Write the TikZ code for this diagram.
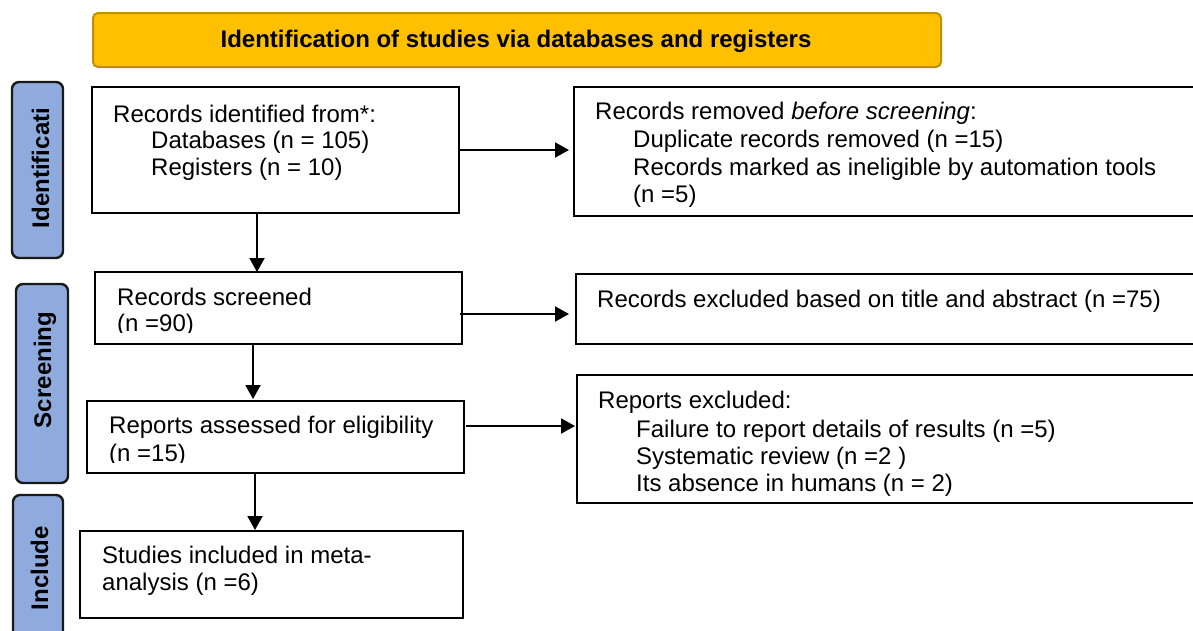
\documentclass[tikz,border=0pt]{standalone}
\usepackage{fontspec}
\setmainfont{Liberation Sans}
\usetikzlibrary{arrows.meta,calc}
\definecolor{bannerfill}{HTML}{FFC000}
\definecolor{bannerline}{HTML}{BF9000}
\definecolor{phasefill}{HTML}{8FAADC}

\begin{document}
\begin{tikzpicture}[x=1pt,y=-1pt,
  box/.style={draw=black, line width=2.2pt, rectangle, inner sep=0pt, outer sep=0pt, anchor=north west},
  phase/.style={draw=black!90, fill=phasefill, line width=2.4pt, rounded corners=7pt,
                inner sep=0pt, outer sep=0pt, anchor=north west},
  phasetxt/.style={rotate=90, anchor=base, inner sep=0pt,
                   font=\fontsize{24}{27}\selectfont\bfseries},
  txt/.style={anchor=base west, inner sep=0pt, font=\fontsize{24}{27}\selectfont},
  arr/.style={line width=2pt, -{Triangle[length=14pt,width=15pt]}},
]
\useasboundingbox (0,0) rectangle (1193,630);
\fill[white] (0,0) rectangle (1193,630);

% Banner
\node[draw=bannerline, fill=bannerfill, line width=2pt, rounded corners=5pt,
      minimum width=848pt, minimum height=54pt, inner sep=0pt, anchor=north west]
      (banner) at (92,12) {};
\node[anchor=base, inner sep=0pt, font=\fontsize{24}{27}\selectfont\bfseries]
      (bannertxt) at (516,47) {Identification of studies via databases and registers};

% Phase labels
\node[phase, minimum width=51pt, minimum height=176pt] (phid) at (12,82) {};
\node[phasetxt] (phidtxt) at (49,168) {Identificati};
\node[phase, minimum width=52pt, minimum height=199pt] (phsc) at (16,284) {};
\node[phasetxt] (phsctxt) at (51,370) {Screening};
\node[phase, minimum width=50pt, minimum height=160pt] (phin) at (13,495) {};
\node[phasetxt] (phintxt) at (48,568) {Include};

% Records identified
\node[box, minimum width=367pt, minimum height=126pt] (ident) at (92,87) {};
\node[txt] (id1) at (113,122) {Records identified from*:};
\node[txt] (id2) at (151,148) {Databases (n = 105)};
\node[txt] (id3) at (151,175) {Registers (n = 10)};

% Records removed
\node[box, minimum width=640pt, minimum height=129pt] (removed) at (574,87) {};
\node[txt] (rm1) at (595,119) {Records removed \textit{before screening}:};
\node[txt] (rm2) at (633,147) {Duplicate records removed (n =15)};
\node[txt] (rm3) at (633,175) {Records marked as ineligible by automation tools};
\node[txt] (rm4) at (633,202) {(n =5)};

% Records screened
\node[box, minimum width=367pt, minimum height=72pt] (screened) at (95,272) {};
\node[txt] (sc1) at (117,305) {Records screened};
\begin{scope}
  \clip (95,272) rectangle (462,332);
  \node[txt] (sc2) at (117,331) {(n =90)};
\end{scope}

% Records excluded
\node[box, minimum width=640pt, minimum height=70pt] (excluded) at (576,274) {};
\node[txt] (ex1) at (597,307) {Records excluded based on title and abstract (n =75)};

% Reports assessed
\node[box, minimum width=377pt, minimum height=72pt] (assessed) at (87,401) {};
\node[txt] (as1) at (109,433) {Reports assessed for eligibility};
\begin{scope}
  \clip (87,401) rectangle (464,462);
  \node[txt] (as2) at (109,461) {(n =15)};
\end{scope}

% Reports excluded
\node[box, minimum width=640pt, minimum height=128pt] (repexcl) at (577,375) {};
\node[txt] (re1) at (598,408) {Reports excluded:};
\node[txt] (re2) at (636,437) {Failure to report details of results (n =5)};
\node[txt] (re3) at (636,464) {Systematic review (n =2 )};
\node[txt] (re4) at (636,491) {Its absence in humans (n = 2)};

% Studies included
\node[box, minimum width=383pt, minimum height=87pt] (included) at (80,531) {};
\node[txt] (in1) at (102,563) {Studies included in meta-};
\node[txt] (in2) at (102,590) {analysis (n =6)};

% Horizontal connectors
\coordinate (a1) at (ident.east);
\draw[arr, shorten >=5pt] (a1) -- (a1 -| removed.west);
\coordinate (a2) at ([xshift=-2pt,yshift=-6pt]screened.east);
\draw[arr, shorten >=7pt] (a2) -- (a2 -| excluded.west);
\coordinate (a3) at ([xshift=2pt,yshift=11pt]assessed.east);
\draw[arr, shorten >=2pt] (a3) -- (a3 -| repexcl.west);

% Vertical connectors
\coordinate (v1) at ([xshift=-18.5pt]ident.south);
\draw[arr] (v1) -- (v1 |- screened.north);
\coordinate (v2) at ([xshift=-25.5pt]screened.south);
\draw[arr, shorten >=2pt] (v2) -- (v2 |- assessed.north);
\coordinate (v3) at ([xshift=-20.5pt]assessed.south);
\draw[arr, shorten >=1pt] (v3) -- (v3 |- included.north);
\end{tikzpicture}
\end{document}
